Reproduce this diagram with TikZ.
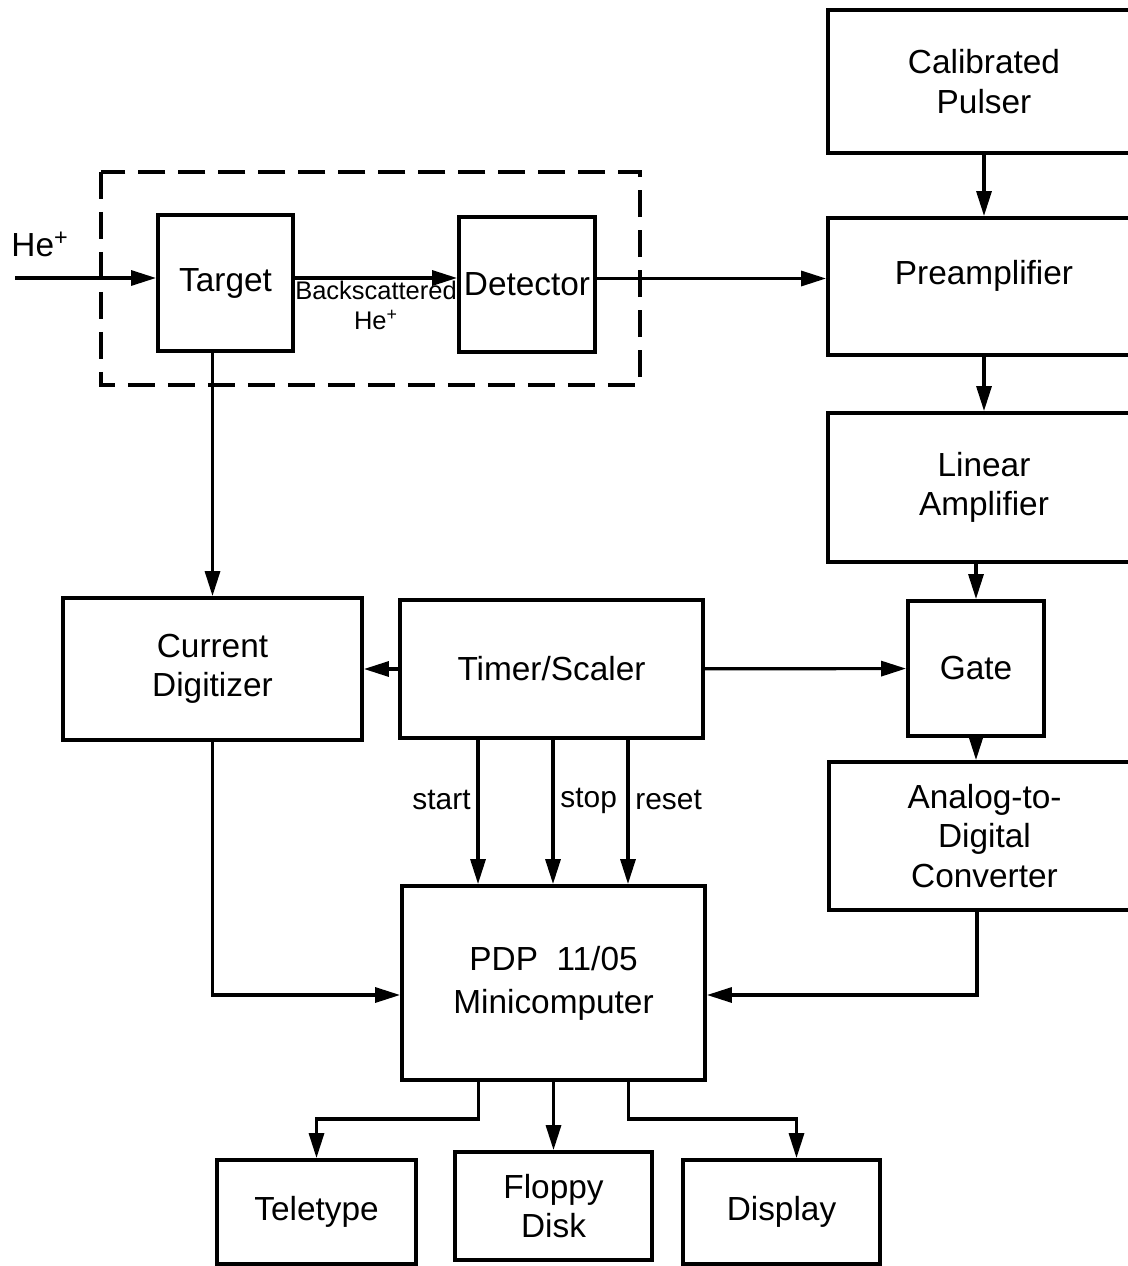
\documentclass[tikz,border=0pt]{standalone}
\usepackage{fontspec}
\setmainfont{Liberation Sans}
\usetikzlibrary{arrows.meta}

\begin{document}
\begin{tikzpicture}[x=0.02cm, y=-0.02cm, line width=1.8pt,
  box/.style={draw, line width=2.2pt, inner sep=0pt, align=center, font=\fontsize{19}{22.5}\selectfont},
  wire/.style={-{Triangle[length=0.5cm,width=0.3cm]}},
  sig/.style={font=\fontsize{17}{20}\selectfont}]
\useasboundingbox (0,0) rectangle (1127,1266);

% analogue chain on the right
\node[box, minimum width=6.24cm, minimum height=2.86cm] (pulser) at (984,81.5) {Calibrated\\Pulser};
\node[box, minimum width=6.24cm, minimum height=2.74cm] (preamp) at (984,286.5) {\raisebox{6pt}[\height][\depth]{Preamplifier}};
\node[box, minimum width=6.24cm, minimum height=2.98cm] (linamp) at (984,487.5) {Linear\\Amplifier};
\node[box, minimum width=2.72cm, minimum height=2.7cm] (gate) at (976,668.5) {Gate};
\node[box, minimum width=6.22cm, minimum height=2.96cm] (adc) at (984.5,836) {Analog-to-\\Digital\\Converter};

% chamber
\node[box, minimum width=2.7cm, minimum height=2.72cm] (target) at (225.5,283) {Target};
\node[box, minimum width=2.72cm, minimum height=2.7cm] (detector) at (527,284.5) {Detector};
\draw[line width=2pt, dash pattern=on 0.54cm off 0.26cm] (101,172) rectangle (640,385);

% counting and computer
\node[box, minimum width=5.98cm, minimum height=2.84cm] (digitizer) at (212.5,669) {Current\\Digitizer};
\node[box, minimum width=6.06cm, minimum height=2.76cm] (timer) at (551.5,669) {Timer/Scaler};
\node[box, minimum width=6.06cm, minimum height=3.88cm] (pdp) at (553.5,983) {PDP\ \ 11/05\\[2pt]Minicomputer};
\node[box, minimum width=3.98cm, minimum height=2.08cm] (teletype) at (316.5,1212) {Teletype};
\node[box, minimum width=3.94cm, minimum height=2.16cm] (floppy) at (553.5,1206) {Floppy\\Disk};
\node[box, minimum width=3.94cm, minimum height=2.08cm] (display) at (781.5,1212) {Display};

\coordinate (beam) at (15,278);
\node[sig, font=\fontsize{19}{22}\selectfont] (helabel) at (40,244) {He\textsuperscript{+}};
\draw[wire] (beam) -- (beam -| target.west);
\draw[wire] ([yshift=0.1cm]target.east) -- ([yshift=0.1cm]target.east -| detector.west)
  node[midway, below, inner sep=1pt, align=center, font=\fontsize{14.5}{17}\selectfont] {Backscattered\\He\textsuperscript{+}};
\draw[wire] ([yshift=0.12cm]detector.east) -- ([yshift=0.12cm]detector.east -| preamp.west);

\draw[wire] (pulser) -- (preamp);
\draw[wire] (preamp) -- (linamp);
\draw[wire] (linamp.south -| gate.north) -- (gate.north);
\draw[wire] (gate) -- (gate |- adc.north);

\draw[wire] (target.south -| digitizer.north) -- (digitizer.north);
\draw[wire] (timer) -- (digitizer);
\draw[wire] (timer) -- (gate);
\foreach \dx/\txt/\side in {-1.47cm/start/left, 0.03cm/stop/right, 1.53cm/reset/right}
  \draw[wire] ([xshift=\dx]timer.south) -- ([xshift=\dx]timer.south |- pdp.north)
    node[pos=0.42, \side, sig] {\txt};

\draw[wire] (digitizer.south) |- ([yshift=-0.24cm]pdp.west);
\draw[wire] ([xshift=-0.15cm]adc.south) |- ([yshift=-0.24cm]pdp.east);

\draw[wire] ([xshift=-1.5cm]pdp.south) -- ++(0,37) -| (teletype.north);
\draw[wire] (pdp.south) -- (floppy.north);
\draw[wire] ([xshift=1.5cm]pdp.south) -- ++(0,37) -| ([xshift=0.3cm]display.north);
\end{tikzpicture}
\end{document}
